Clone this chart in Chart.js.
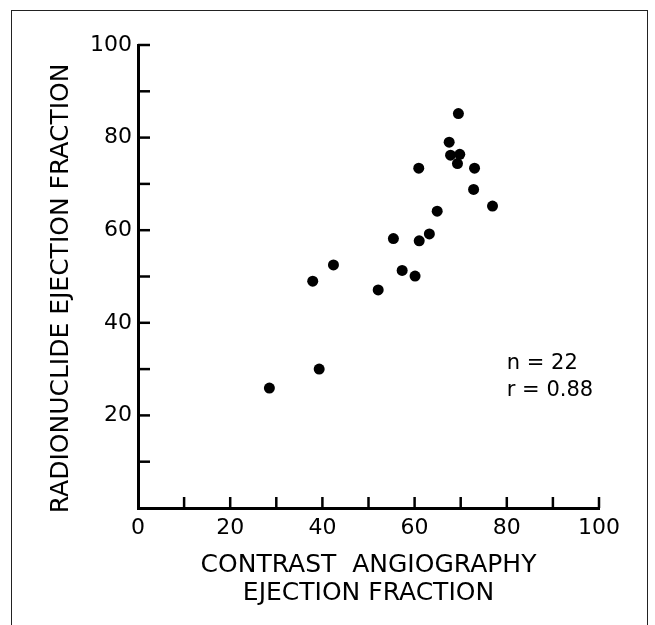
<!DOCTYPE html>
<html lang="en">
<head>
  <meta charset="UTF-8" />
  <title>Radionuclide vs Contrast Angiography Ejection Fraction</title>
  <script src="https://cdn.jsdelivr.net/npm/chart.js"></script>
  <style>
    html, body {
      margin: 0;
      background: #fff;
      overflow: hidden;
    }

    .frame {
      position: absolute;
      left: 11px;
      top: 10px;
      width: 635px;
      height: 700px;
      border: 1.5px solid #222;
    }

    .wrap {
      position: absolute;
      left: 0;
      top: 0;
      width: 655px;
      height: 625px;
    }
  </style>
</head>

<body>
  <div class="frame"></div>
  <div class="wrap">
    <canvas id="efChart" width="655" height="625"></canvas>
  </div>

  <script>
    // contrast angiography EF (x) and radionuclide EF (y)
    const angioEF = [69.5, 67.5, 67.8, 69.8, 69.3, 60.9, 73.0, 72.8, 76.9, 64.9,
                     63.2, 55.4, 61.0, 42.4, 57.3, 60.1, 37.9, 52.1, 39.3, 28.5];
    const radioEF = [85.2, 79.0, 76.2, 76.4, 74.4, 73.4, 73.4, 68.8, 65.2, 64.1,
                     59.2, 58.2, 57.7, 52.5, 51.3, 50.1, 49.0, 47.1, 30.0, 25.9];

    const xTickLabels = [0, 20, 40, 60, 80, 100];
    const yTickLabels = [20, 40, 60, 80, 100];
    const statsText = ['n = 22', 'r = 0.88'];

    const INK = '#000';
    const FONT = "'DejaVu Sans', sans-serif";

    // tick marks in the original point into the plot, so draw them ourselves
    const inwardTicks = {
      id: 'inwardTicks',
      afterDatasetsDraw(chart) {
        const { ctx, chartArea, scales: { x, y } } = chart;
        ctx.save();
        ctx.strokeStyle = INK;
        ctx.lineWidth = 2.5;
        x.ticks.forEach(t => {
          if (t.value === 0) return;
          const px = x.getPixelForValue(t.value);
          ctx.beginPath();
          ctx.moveTo(px, chartArea.bottom);
          ctx.lineTo(px, chartArea.bottom - 11);
          ctx.stroke();
        });
        y.ticks.forEach(t => {
          if (t.value === 0) return;
          const py = y.getPixelForValue(t.value);
          ctx.beginPath();
          ctx.moveTo(chartArea.left, py);
          ctx.lineTo(chartArea.left + 12, py);
          ctx.stroke();
        });
        ctx.restore();
      }
    };

    // "n = 22 / r = 0.88" note, anchored in data space
    const statsNote = {
      id: 'statsNote',
      afterDatasetsDraw(chart) {
        const { ctx, scales: { x, y } } = chart;
        ctx.save();
        ctx.fillStyle = INK;
        ctx.font = `21px ${FONT}`;
        ctx.textAlign = 'left';
        ctx.textBaseline = 'middle';
        const left = x.getPixelForValue(80);
        const top = y.getPixelForValue(31.3);
        statsText.forEach((line, i) => ctx.fillText(line, left, top + i * 27));
        ctx.restore();
      }
    };

    const ctx = document.getElementById('efChart').getContext('2d');
    new Chart(ctx, {
      type: 'scatter',
      data: {
        datasets: [{
          data: angioEF.map((v, i) => ({ x: v, y: radioEF[i] })),
          backgroundColor: INK,
          borderWidth: 0,
          pointRadius: 5.5,
          pointHoverRadius: 5.5
        }]
      },
      options: {
        responsive: false,
        animation: false,
        events: [],
        layout: { padding: { top: 45, right: 56, left: 0, bottom: 0 } },
        plugins: {
          legend: { display: false },
          tooltip: { enabled: false }
        },
        scales: {
          x: {
            type: 'linear',
            min: 0,
            max: 100,
            afterFit: s => { s.height = 117; },
            grid: { display: true, drawOnChartArea: false, drawTicks: false },
            border: { display: true, color: INK, width: 3 },
            ticks: {
              stepSize: 10,
              autoSkip: false,
              maxRotation: 0,
              padding: 7,
              color: INK,
              font: { family: FONT, size: 22 },
              callback: v => xTickLabels.includes(v) ? String(v) : ''
            },
            title: {
              display: true,
              text: ['CONTRAST  ANGIOGRAPHY', 'EJECTION FRACTION'],
              color: INK,
              font: { family: FONT, size: 25, lineHeight: 1.12 },
              padding: { top: 0, bottom: 18 }
            }
          },
          y: {
            type: 'linear',
            min: 0,
            max: 100,
            afterFit: s => { s.width = 138; },
            grid: { display: true, drawOnChartArea: false, drawTicks: false },
            border: { display: true, color: INK, width: 3 },
            ticks: {
              stepSize: 10,
              autoSkip: false,
              padding: 6,
              color: INK,
              font: { family: FONT, size: 22 },
              callback: v => yTickLabels.includes(v) ? String(v) : ''
            },
            title: {
              display: true,
              // trailing spaces nudge the rotated title down, as in the original
              text: 'RADIONUCLIDE EJECTION FRACTION   ',
              color: INK,
              font: { family: FONT, size: 25, lineHeight: 1.12 },
              padding: { top: 47, bottom: 0 }
            }
          }
        }
      },
      plugins: [inwardTicks, statsNote]
    });
  </script>
</body>
</html>
